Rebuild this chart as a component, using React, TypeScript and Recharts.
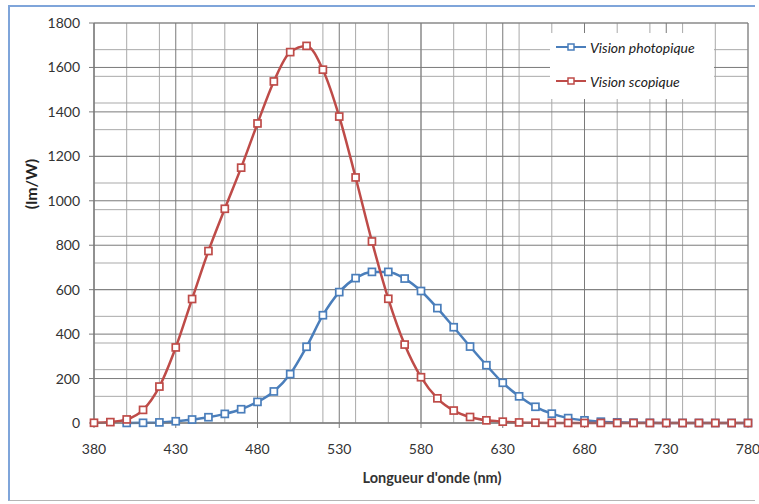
import { LineChart, Line, XAxis, YAxis, CartesianGrid, Legend, Label } from 'recharts';

const wavelengths = [
  380, 390, 400, 410, 420, 430, 440, 450, 460, 470,
  480, 490, 500, 510, 520, 530, 540, 550, 560, 570,
  580, 590, 600, 610, 620, 630, 640, 650, 660, 670,
  680, 690, 700, 710, 720, 730, 740, 750, 760, 770, 780,
];

// Vision photopique (lm/W) — no value at 380/390
const photopic = [
  null, null, 0.3, 0.8, 2.7, 7.9, 15.7, 26, 41, 62,
  95, 142, 220, 343, 485, 589, 652, 680, 680, 650,
  594, 517, 431, 344, 260, 181, 120, 73, 42, 22,
  12, 6, 3, 1.4, 0.7, 0.4, 0.2, 0.1, 0, 0, 0,
];

// Vision scopique (lm/W)
const scotopic = [
  1, 4, 16, 59, 164, 340, 558, 774, 964, 1149,
  1348, 1537, 1669, 1697, 1590, 1379, 1105, 817, 559, 353,
  206, 111, 56, 27, 12, 6, 2.5, 1.2, 0.5, 0.3,
  0.1, 0.1, 0, 0, 0, 0, 0, 0, 0, 0, 0,
];

const xTicks = [380, 430, 480, 530, 580, 630, 680, 730, 780];
const yTicks = [0, 200, 400, 600, 800, 1000, 1200, 1400, 1600, 1800];

const BLUE = '#4a7ebb';
const RED = '#be4b48';
const FONT = 'Lato, "Open Sans", sans-serif';

const data = wavelengths.map((w, i) => ({
  w,
  photopic: photopic[i],
  scotopic: scotopic[i],
}));

const minorX: number[] = [];
for (let v = 380; v <= 780; v += 10) minorX.push(v);
const minorY: number[] = [];
for (let v = 0; v <= 1800; v += 40) minorY.push(v);

function squareDot(color: string) {
  return (props: any) => {
    const { cx, cy, index, value } = props;
    if (cx == null || cy == null || value == null) return <g key={`d-${index}`} />;
    return (
      <rect
        key={`d-${index}`}
        x={cx - 3.5}
        y={cy - 3.5}
        width={7}
        height={7}
        fill="#fff"
        stroke={color}
        strokeWidth={1.7}
      />
    );
  };
}

function LegendBox() {
  const items = [
    { label: 'Vision photopique', color: BLUE },
    { label: 'Vision scopique', color: RED },
  ];
  return (
    <div style={{ position: 'relative', background: '#fff', width: 164, height: 66, fontFamily: FONT }}>
      {items.map((it, i) => (
        <div
          key={it.label}
          style={{
            position: 'absolute',
            left: 6,
            top: 5 + i * 34,
            display: 'flex',
            alignItems: 'center',
            height: 18,
          }}
        >
          <svg width={30} height={10}>
            <line x1={0} y1={5} x2={30} y2={5} stroke={it.color} strokeWidth={2} />
            <rect x={12} y={2} width={6} height={6} fill="#fff" stroke={it.color} strokeWidth={1.5} />
          </svg>
          <span style={{ marginLeft: 4, fontSize: 14, fontStyle: 'italic', color: '#222' }}>{it.label}</span>
        </div>
      ))}
    </div>
  );
}

export default function App() {
  return (
    <div style={{ position: 'absolute', left: 0, top: 0, width: 759, height: 504, background: '#fff' }}>
      <div
        style={{
          position: 'absolute',
          left: 8,
          top: 5,
          width: 747,
          height: 496,
          borderLeft: '2px solid #7fa5da',
          borderTop: '2px solid #7fa5da',
          borderBottom: '1px solid #b5b5b5',
          boxSizing: 'border-box',
        }}
      />
      <div style={{ position: 'absolute', left: 0, top: 0 }}>
        <LineChart width={759} height={504} data={data} margin={{ top: 23, right: 11, left: 0, bottom: 0 }}>
          <CartesianGrid stroke="#a9a9a9" strokeWidth={1} verticalValues={minorX} horizontalValues={minorY} />
          <CartesianGrid stroke="#7a7a7a" strokeWidth={1} verticalValues={xTicks} horizontalValues={yTicks} />
          <XAxis
            dataKey="w"
            type="number"
            domain={[380, 780]}
            ticks={xTicks}
            height={81}
            stroke="#7a7a7a"
            tickSize={5}
            tickMargin={16}
            tick={{ fill: '#333', fontSize: 14, fontFamily: FONT }}
          >
            <Label
              content={() => (
                <text x={432} y={483} textAnchor="middle" fontFamily={FONT} fontSize={14.5} fontWeight={700} fill="#333">
                  Longueur d'onde (nm)
                </text>
              )}
            />
          </XAxis>
          <YAxis
            type="number"
            domain={[0, 1800]}
            ticks={yTicks}
            width={94}
            stroke="#7a7a7a"
            tickSize={5}
            tickMargin={9}
            tick={{ fill: '#333', fontSize: 14, fontFamily: FONT }}
          >
            <Label
              content={() => (
                <text
                  x={30}
                  y={184}
                  transform="rotate(-90, 30, 184)"
                  textAnchor="middle"
                  dominantBaseline="central"
                  fontFamily={FONT}
                  fontSize={16}
                  fontWeight={700}
                  fill="#222"
                >
                  (lm/W)
                </text>
              )}
            />
          </YAxis>
          <Legend
            layout="horizontal"
            verticalAlign="middle"
            align="center"
            content={() => <LegendBox />}
            wrapperStyle={{ position: 'absolute', left: 550, top: 33, width: 164, height: 66 }}
          />
          <Line
            type="monotone"
            dataKey="photopic"
            stroke={BLUE}
            strokeWidth={2.5}
            dot={squareDot(BLUE)}
            activeDot={false}
            isAnimationActive={false}
          />
          <Line
            type="monotone"
            dataKey="scotopic"
            stroke={RED}
            strokeWidth={2.5}
            dot={squareDot(RED)}
            activeDot={false}
            isAnimationActive={false}
          />
        </LineChart>
      </div>
    </div>
  );
}
